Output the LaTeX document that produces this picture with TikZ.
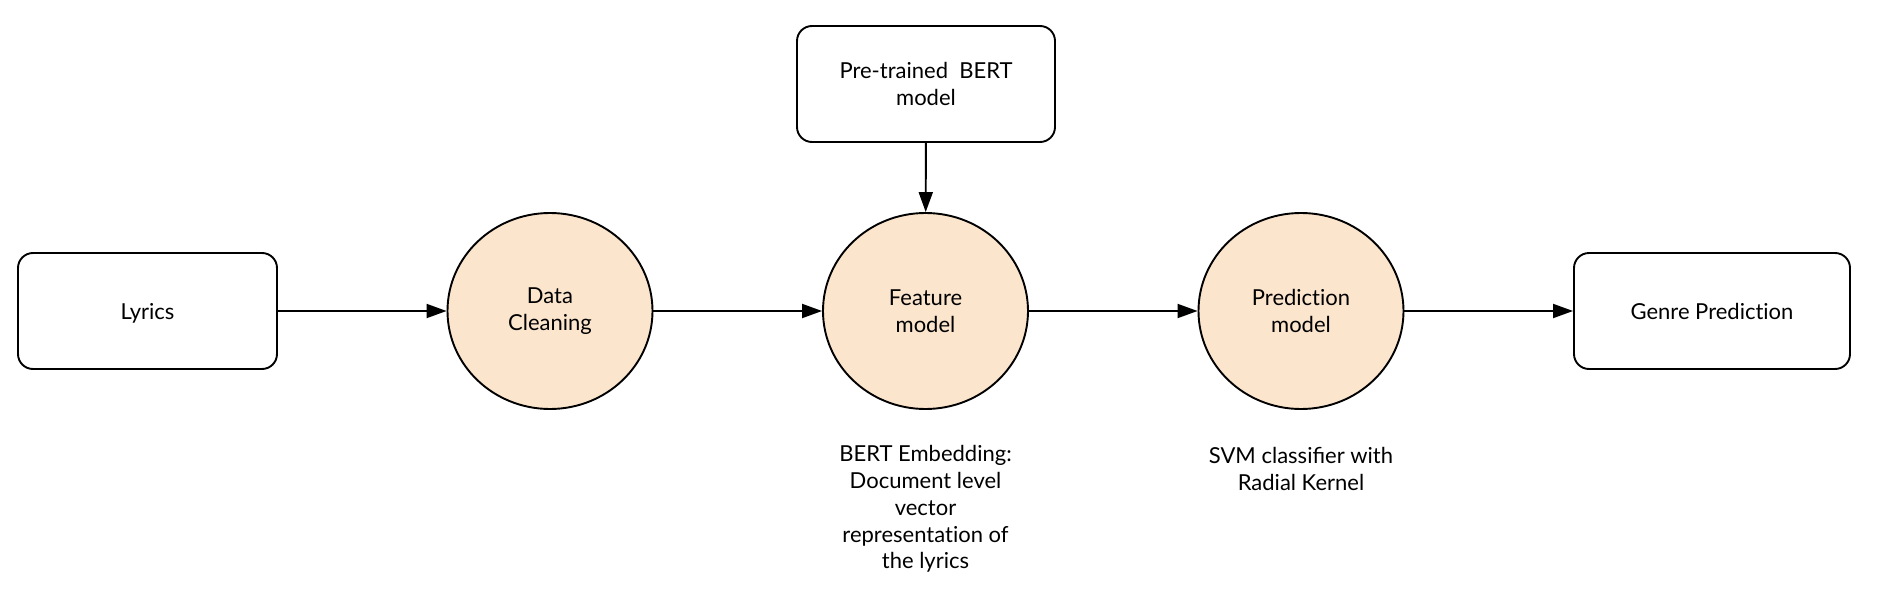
\documentclass[tikz,border=0pt]{standalone}
\usepackage{fontspec}
\setmainfont{Lato}
\usetikzlibrary{arrows.meta,shapes.geometric}
\definecolor{peach}{RGB}{252,229,205}
\newcommand{\nti}{t\kern0pt i}
\tikzset{
  base/.style={font=\fontsize{22}{26.8}\selectfont, align=center, inner sep=0pt},
  boxnode/.style={base, draw, line width=1.9pt, rounded corners=15pt},
  oneline/.style={text height=20pt, text depth=4pt},
  ellnode/.style={base, ellipse, draw, line width=1.9pt, fill=peach, minimum width=205pt, minimum height=196pt},
  txtnode/.style={base},
  conn/.style={line width=1.9pt, -{Triangle[length=20pt,width=14pt]}}
}
\begin{document}
\begin{tikzpicture}[x=1pt,y=1pt]
\useasboundingbox (0,0) rectangle (1896,-610);
\node[boxnode, oneline, minimum width=259pt, minimum height=116pt] (lyrics) at (147.5,-311) {Lyrics};
\node[ellnode] (clean) at (550,-311) {Data\\Cleaning};
\node[ellnode] (feat) at (925.5,-311) {Feature\\model};
\node[ellnode] (pred) at (1301,-311) {Predic\nti on\\model};
\node[boxnode, oneline, minimum width=276pt, minimum height=116pt] (genre) at (1712,-311) {Genre Predic\nti on};
\node[boxnode, minimum width=258pt, minimum height=116pt] (bert) at (926,-84) {Pre-trained\ \ BERT\\model};
\node[txtnode] (featdesc) at (925.5,-509) {BERT Embedding:\\Document level\\vector\\representa\nti on of\\the lyrics};
\node[txtnode] (svmdesc) at (1301,-469) {SVM classifier with\\Radial Kernel};
\draw[conn] (lyrics) -- (clean);
\draw[conn] (clean) -- (feat);
\draw[conn] (feat) -- (pred);
\draw[conn] (pred) -- (genre);
\draw[conn] (bert) -- (feat);
\end{tikzpicture}
\end{document}
